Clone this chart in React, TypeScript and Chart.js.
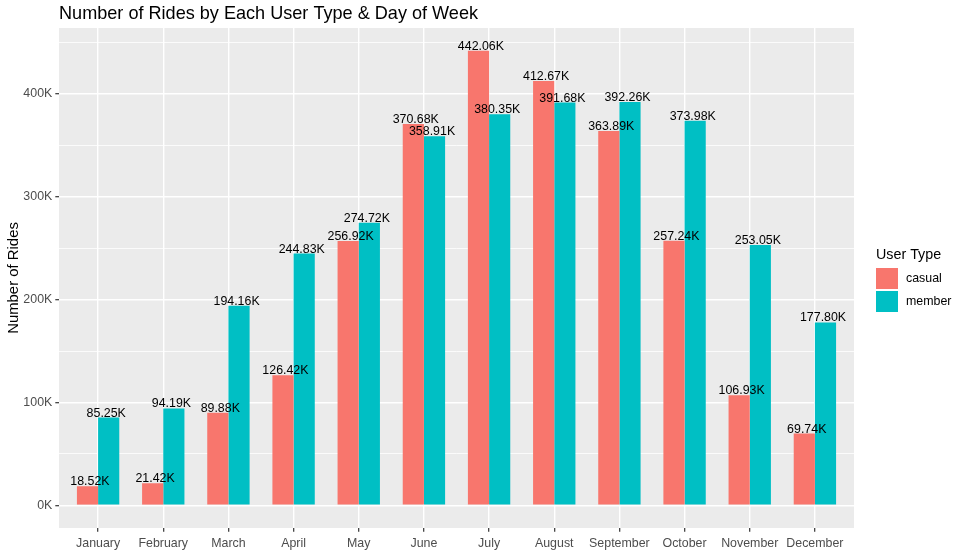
import React, { useEffect, useRef } from "react";
import { Chart, registerables } from "chart.js";

Chart.register(...registerables);

const months = [
  "January", "February", "March", "April", "May", "June",
  "July", "August", "September", "October", "November", "December",
];
const casualRides = [18520, 21420, 89880, 126420, 256920, 370680, 442060, 412670, 363890, 257240, 106930, 69740];
const memberRides = [85250, 94190, 194160, 244830, 274720, 358910, 380350, 391680, 392260, 373980, 253050, 177800];
const yTicks = [0, 50000, 100000, 150000, 200000, 250000, 300000, 350000, 400000, 450000];
const seriesNames = ["casual", "member"];
const seriesColors = ["#F8766D", "#00BFC4"];

const FONT = "'Liberation Sans', Arial, sans-serif";

const fmtK = (v: number) => (v / 1000).toFixed(2) + "K";

const ggPlugin = {
  id: "ggDecor",
  beforeDraw(chart: any) {
    const { ctx, chartArea } = chart;
    ctx.save();
    ctx.fillStyle = "#FFFFFF";
    ctx.fillRect(0, 0, chart.width, chart.height);
    ctx.fillStyle = "#EBEBEB";
    ctx.fillRect(chartArea.left, chartArea.top, chartArea.right - chartArea.left, chartArea.bottom - chartArea.top);
    ctx.restore();
  },
  afterDatasetsDraw(chart: any) {
    const { ctx, chartArea } = chart;
    const xs = chart.scales.x;
    const ys = chart.scales.y;
    ctx.save();
    // data labels
    ctx.font = `12.4px ${FONT}`;
    ctx.fillStyle = "#000000";
    ctx.textAlign = "center";
    ctx.textBaseline = "alphabetic";
    const series = [casualRides, memberRides];
    series.forEach((arr, s) => {
      arr.forEach((v, i) => {
        const off = s === 0 ? -0.125 : 0.125;
        const px = xs.getPixelForValue(i + off);
        const py = ys.getPixelForValue(v);
        ctx.fillText(fmtK(v), px, py - 1);
      });
    });
    // title
    ctx.textAlign = "left";
    ctx.font = `18.1px ${FONT}`;
    ctx.fillText("Number of Rides by Each User Type & Day of Week", chartArea.left, 19);
    // y axis title
    ctx.save();
    ctx.translate(18.3, (chartArea.top + chartArea.bottom) / 2);
    ctx.rotate(-Math.PI / 2);
    ctx.textAlign = "center";
    ctx.font = `14.9px ${FONT}`;
    ctx.fillText("Number of Rides", 0, 0);
    ctx.restore();
    // legend
    ctx.font = `14.3px ${FONT}`;
    ctx.textAlign = "left";
    ctx.fillText("User Type", 876, 259);
    ctx.font = `12.4px ${FONT}`;
    ctx.textBaseline = "middle";
    seriesNames.forEach((name, k) => {
      const top = 268 + k * 23;
      ctx.fillStyle = seriesColors[k];
      ctx.fillRect(876, top, 22, 21);
      ctx.fillStyle = "#000000";
      ctx.fillText(name, 906, top + 11);
    });
    ctx.restore();
  },
};

export default function App() {
  const ref = useRef<HTMLCanvasElement>(null);
  useEffect(() => {
    document.body.style.margin = "0";
    const canvas = ref.current!;
    const chart = new Chart(canvas, {
      type: "bar",
      data: {
        datasets: [
          {
            label: seriesNames[0],
            data: casualRides.map((v, i) => ({ x: i, y: v })),
            backgroundColor: seriesColors[0],
            borderWidth: 0,
          },
          {
            label: seriesNames[1],
            data: memberRides.map((v, i) => ({ x: i, y: v })),
            backgroundColor: seriesColors[1],
            borderWidth: 0,
          },
        ],
      },
      options: {
        responsive: false,
        animation: false,
        events: [],
        datasets: { bar: { categoryPercentage: 0.65, barPercentage: 1 } },
        layout: { padding: { left: 0, top: 28, right: 105, bottom: 0 } },
        plugins: {
          legend: { display: false },
          title: { display: false },
          tooltip: { enabled: false },
        },
        scales: {
          x: {
            type: "linear",
            offset: false,
            min: -0.6,
            max: 11.6,
            afterBuildTicks: (axis: any) => {
              axis.ticks = months.map((_, i) => ({ value: i }));
            },
            afterFit: (s: any) => {
              s.height = 28;
            },
            border: { display: false },
            grid: {
              offset: false,
              color: "#FFFFFF",
              lineWidth: 1.4,
              tickColor: "#333333",
              tickLength: 3.7,
              tickWidth: 1.2,
            },
            ticks: {
              autoSkip: false,
              maxRotation: 0,
              padding: 4,
              color: "#4D4D4D",
              font: { family: FONT, size: 12.4 },
              callback: (v: any) => months[Math.round(Number(v))] ?? "",
            },
          },
          y: {
            type: "linear",
            min: -22103,
            max: 464163,
            afterBuildTicks: (axis: any) => {
              axis.ticks = yTicks.map((v) => ({ value: v }));
            },
            afterFit: (s: any) => {
              s.width = 59;
            },
            border: { display: false },
            grid: {
              color: "#FFFFFF",
              lineWidth: (c: any) => (c.tick && c.tick.value % 100000 === 0 ? 1.4 : 0.8),
              tickColor: (c: any) => (c.tick && c.tick.value % 100000 === 0 ? "#333333" : "rgba(0,0,0,0)"),
              tickLength: 3.7,
              tickWidth: 1.2,
            },
            ticks: {
              autoSkip: false,
              padding: 3,
              color: "#4D4D4D",
              font: { family: FONT, size: 12.4 },
              callback: (v: any) => (Number(v) % 100000 === 0 ? `${Number(v) / 1000}K` : ""),
            },
          },
        },
      },
      plugins: [ggPlugin],
    } as any);
    return () => chart.destroy();
  }, []);
  return <canvas ref={ref} width={959} height={556} style={{ display: "block" }} />;
}
